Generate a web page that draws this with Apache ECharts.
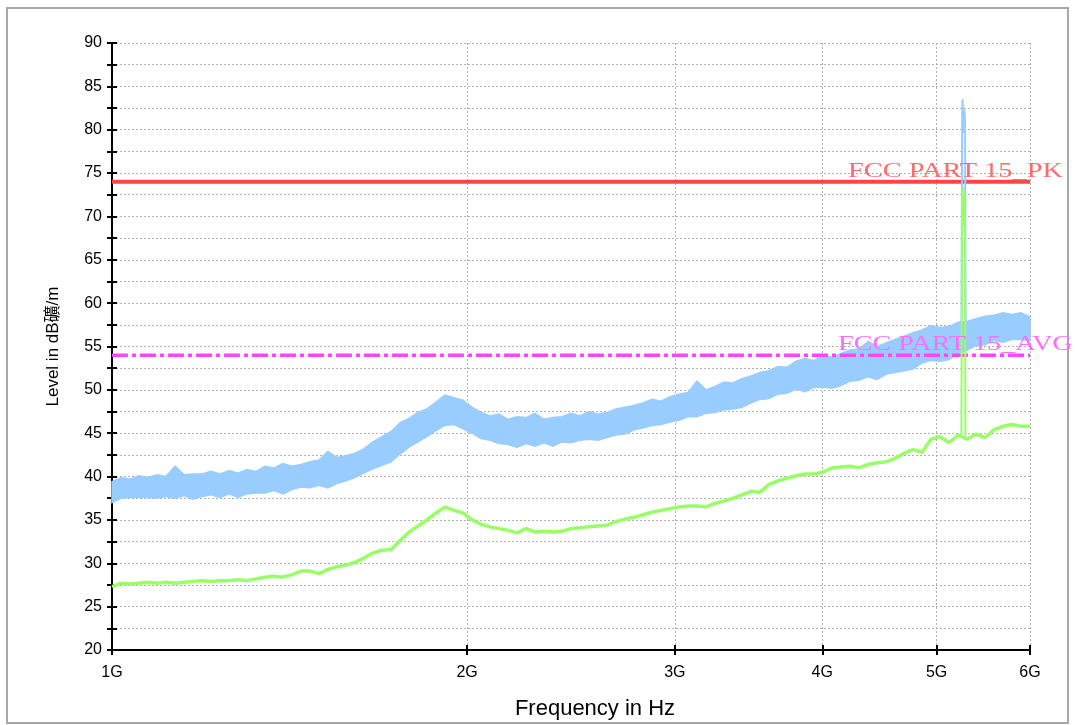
<!DOCTYPE html>
<html>
<head>
<meta charset="utf-8">
<script src="https://cdn.jsdelivr.net/npm/echarts@6/dist/echarts.min.js"></script>
<style>
html,body{margin:0;padding:0;background:#fff;}
#c{width:1086px;height:725px;}
</style>
</head>
<body>
<div id="c"></div>
<script>
// ---- data ----
const freqGHz = [
 1.000,1.018,1.036,1.054,1.073,1.092,1.111,1.131,1.151,1.171,
 1.192,1.213,1.235,1.257,1.279,1.301,1.325,1.348,1.372,1.396,
 1.421,1.446,1.472,1.498,1.524,1.551,1.579,1.607,1.635,1.664,
 1.694,1.724,1.754,1.786,1.817,1.849,1.882,1.915,1.949,1.984,
 2.019,2.055,2.091,2.128,2.166,2.205,2.244,2.283,2.324,2.365,
 2.407,2.450,2.493,2.537,2.582,2.628,2.674,2.722,2.770,2.819,
 2.869,2.920,2.972,3.024,3.078,3.132,3.188,3.244,3.302,3.360,
 3.420,3.481,3.542,3.605,3.669,3.734,3.800,3.868,3.936,4.006,
 4.077,4.149,4.223,4.298,4.374,4.451,4.530,4.610,4.692,4.775,
 4.860,4.946,5.034,5.123,5.214,5.306,5.400,5.496,5.593,5.692,
 5.793,5.896,6.000
];
const greenAvg = [
 27.3,27.7,27.6,27.7,27.8,27.7,27.8,27.7,27.8,27.9,
 28.0,27.9,28.0,28.0,28.1,28.0,28.2,28.4,28.5,28.4,
 28.7,29.1,29.1,28.8,29.3,29.6,29.8,30.1,30.6,31.2,
 31.5,31.6,32.6,33.6,34.3,35.0,35.8,36.5,36.1,35.8,
 35.0,34.5,34.2,34.0,33.8,33.5,34.0,33.6,33.7,33.6,
 33.7,34.0,34.1,34.2,34.3,34.4,34.8,35.1,35.3,35.6,
 35.9,36.1,36.3,36.5,36.6,36.6,36.5,36.9,37.2,37.5,
 37.9,38.3,38.2,39.1,39.5,39.8,40.1,40.3,40.3,40.5,
 41.0,41.1,41.2,41.0,41.4,41.6,41.7,42.1,42.7,43.1,
 42.8,44.3,44.6,43.9,44.8,44.3,44.9,44.5,45.4,45.8,
 46.0,45.8,45.8
];
const blueLow = [
 37.0,37.5,37.6,37.6,37.6,37.5,37.7,37.5,37.8,37.4,
 37.7,37.9,37.6,38.0,37.6,38.0,38.1,38.1,38.4,38.0,
 38.5,38.8,38.7,39.0,38.7,39.2,39.5,39.9,40.4,40.9,
 41.3,41.7,42.6,43.4,44.0,44.6,45.3,45.9,46.0,45.5,
 45.0,44.4,44.2,43.8,43.7,43.4,43.8,43.5,43.9,43.5,
 44.0,43.9,44.2,44.3,44.2,44.5,44.8,44.9,45.4,45.6,
 45.9,46.0,46.3,46.5,46.9,46.9,47.3,47.4,47.7,47.8,
 48.0,48.5,48.9,49.0,49.5,49.6,50.1,49.8,50.3,50.3,
 50.2,50.5,51.0,51.1,51.5,51.2,51.8,52.0,52.2,52.4,
 53.1,53.4,53.3,53.5,54.2,54.6,55.1,55.2,55.7,55.5,
 55.8,55.8,55.7
];
const blueHigh = [
 39.4,39.9,39.7,40.1,39.9,40.2,40.0,41.2,40.2,40.3,
 40.3,40.6,40.3,40.7,40.4,40.8,40.6,41.2,41.0,41.5,
 41.2,41.4,41.7,41.9,42.9,42.2,42.4,42.7,43.2,44.0,
 44.6,45.2,46.2,46.7,47.4,47.8,48.6,49.4,49.1,48.8,
 48.0,47.4,47.0,47.2,46.6,46.9,46.8,47.3,46.6,46.8,
 46.9,47.3,47.0,47.5,47.2,47.4,47.8,48.0,48.2,48.5,
 48.9,48.7,49.2,49.5,49.7,51.0,50.0,50.4,50.9,50.8,
 51.3,51.6,52.0,52.2,52.7,52.6,53.3,53.6,53.4,53.9,
 53.8,54.2,54.6,54.7,55.6,55.0,55.4,55.8,56.2,56.6,
 56.9,57.4,57.2,57.3,57.8,57.9,58.2,58.5,58.6,58.9,
 58.7,58.9,58.4
];
// narrow emission near 5.27 GHz
const spikeFreqBlue  = [5.250,5.256,5.261,5.266,5.271,5.276,5.281,5.286,5.291];
const blueSpike      = [55.2, 82.0, 83.5, 80.0, 82.6, 79.6, 82.2, 80.5, 55.6];
const spikeFreqGreen = [5.248,5.254,5.260,5.266,5.272,5.278,5.284,5.290];
const greenSpike     = [44.9, 73.2, 69.0, 73.4, 68.8, 72.6, 69.4, 44.6];
// limits
const pkLimit = 74;
const avgLimit = 54;
const pkLabel = 'FCC PART 15_PK';
const avgLabel = 'FCC PART 15_AVG';
// axes
const xTicks = [1,2,3,4,5,6];
const xTickLabels = ['1G','2G','3G','4G','5G','6G'];
const yMin = 20, yMax = 90, yStep = 2.5, yLabelStep = 5;
const xTitle = 'Frequency in Hz';
const yTitle = 'Level in dB礦/m';

// ---- chart ----
const chart = echarts.init(document.getElementById('c'), null, {renderer: 'canvas'});
const pairs = (xs, ys) => xs.map((x, i) => [x, ys[i]]);
const sansFont = '"Liberation Sans", Arial, "Noto Sans CJK TC", sans-serif';
const gridLine = {color: '#b0b0b0', width: 1, type: [2, 2]};
const xFmt = v => xTickLabels[xTicks.indexOf(Math.round(v))] || '';

// peak trace drawn as a filled band between its lower and upper envelope
function renderPeakBand(params, api) {
  const upper = freqGHz.map((f, i) => api.coord([f, blueHigh[i]]));
  const lower = freqGHz.map((f, i) => api.coord([f, blueLow[i]])).reverse();
  return {
    type: 'polygon',
    shape: {points: upper.concat(lower)},
    style: {fill: '#99ccff', stroke: '#99ccff', lineWidth: 1.5, lineJoin: 'miter'}
  };
}

const option = {
  animation: false,
  backgroundColor: '#ffffff',
  grid: {left: 112, right: 56, top: 43, bottom: 75, containLabel: false},
  xAxis: [
    {
      type: 'log', logBase: 10, min: xTicks[0], max: xTicks[xTicks.length - 1],
      position: 'bottom',
      name: xTitle, nameLocation: 'middle', nameGap: 48,
      nameTextStyle: {fontSize: 22, fontFamily: sansFont, color: '#000', padding: [0, 0, 0, 48]},
      axisLine: {onZero: false, lineStyle: {color: '#000', width: 2}},
      axisTick: {show: true, inside: false, length: 5, customValues: xTicks, lineStyle: {color: '#000', width: 2}},
      axisLabel: {customValues: xTicks, formatter: xFmt, fontSize: 16, margin: 15, color: '#000', fontFamily: sansFont},
      splitLine: {show: true, lineStyle: gridLine},
      minorTick: {show: false}, minorSplitLine: {show: false}
    },
    {
      type: 'log', logBase: 10, min: xTicks[0], max: xTicks[xTicks.length - 1],
      position: 'bottom',
      axisLine: {show: false, onZero: false},
      axisTick: {show: true, inside: true, length: 5, customValues: xTicks, lineStyle: {color: '#000', width: 2}},
      axisLabel: {show: false},
      splitLine: {show: false}
    }
  ],
  yAxis: [
    {
      type: 'value', min: yMin, max: yMax, interval: yStep, position: 'left',
      name: yTitle, nameLocation: 'middle', nameGap: 50,
      nameTextStyle: {fontSize: 17, fontFamily: sansFont, color: '#000'},
      axisLine: {show: true, onZero: false, lineStyle: {color: '#000', width: 2}},
      axisTick: {show: true, inside: false, length: 5, lineStyle: {color: '#000', width: 2}},
      axisLabel: {formatter: v => (v % yLabelStep === 0 ? String(v) : ''), fontSize: 16, margin: 10, color: '#000', fontFamily: sansFont},
      splitLine: {show: true, lineStyle: gridLine}
    },
    {
      type: 'value', min: yMin, max: yMax, interval: yStep, position: 'left',
      axisLine: {show: false, onZero: false},
      axisTick: {show: true, inside: true, length: 5, lineStyle: {color: '#000', width: 2}},
      axisLabel: {show: false},
      splitLine: {show: false}
    }
  ],
  series: [
    {
      name: 'Peak', type: 'custom', silent: true, z: 2,
      data: [[freqGHz[0], blueLow[0]]],
      renderItem: renderPeakBand
    },
    {
      name: 'Average', type: 'line', symbol: 'none', silent: true,
      data: pairs(freqGHz, greenAvg),
      lineStyle: {color: '#99ff66', width: 3.5}, z: 3
    },
    {
      name: pkLabel, type: 'line', symbol: 'none', silent: true,
      data: [[xTicks[0], pkLimit], [xTicks[xTicks.length - 1], pkLimit]],
      lineStyle: {color: '#ff4444', width: 4}, z: 4
    },
    {
      name: avgLabel, type: 'line', symbol: 'none', silent: true,
      data: [[xTicks[0], avgLimit], [xTicks[xTicks.length - 1], avgLimit]],
      lineStyle: {color: '#ff44ff', width: 3.5, type: [16, 4, 4, 4]}, z: 4
    },
    {
      name: 'Peak spike', type: 'line', symbol: 'none', silent: true,
      data: pairs(spikeFreqBlue, blueSpike),
      lineStyle: {color: '#99ccff', width: 2}, z: 5
    },
    {
      name: 'Average spike', type: 'line', symbol: 'none', silent: true,
      data: pairs(spikeFreqGreen, greenSpike),
      lineStyle: {color: '#99ff66', width: 2}, z: 6
    }
  ]
};
chart.setOption(option);

// limit-line captions placed from the axis scale
const xRight = chart.convertToPixel({xAxisIndex: 0}, xTicks[xTicks.length - 1]);
const yPk = chart.convertToPixel({yAxisIndex: 0}, pkLimit);
const yAvg = chart.convertToPixel({yAxisIndex: 0}, avgLimit);
const serif = '"Liberation Serif", "DejaVu Serif", serif';
chart.setOption({
  graphic: [
    {
      type: 'rect', silent: true, z: 0,
      shape: {x: 7, y: 8, width: 1061, height: 715},
      style: {fill: null, stroke: '#a8a8a8', lineWidth: 2}
    },
    {
      type: 'text', silent: true, z: 10,
      x: xRight - 182, y: yPk - 11, scaleX: 1.29,
      style: {text: pkLabel, fontSize: 22, fontFamily: serif, fill: '#ff6a6a', align: 'left', verticalAlign: 'middle'}
    },
    {
      type: 'text', silent: true, z: 10,
      x: xRight - 192, y: yAvg - 11, scaleX: 1.28,
      style: {text: avgLabel, fontSize: 22, fontFamily: serif, fill: '#ff6aff', align: 'left', verticalAlign: 'middle'}
    }
  ]
});
</script>
</body>
</html>
